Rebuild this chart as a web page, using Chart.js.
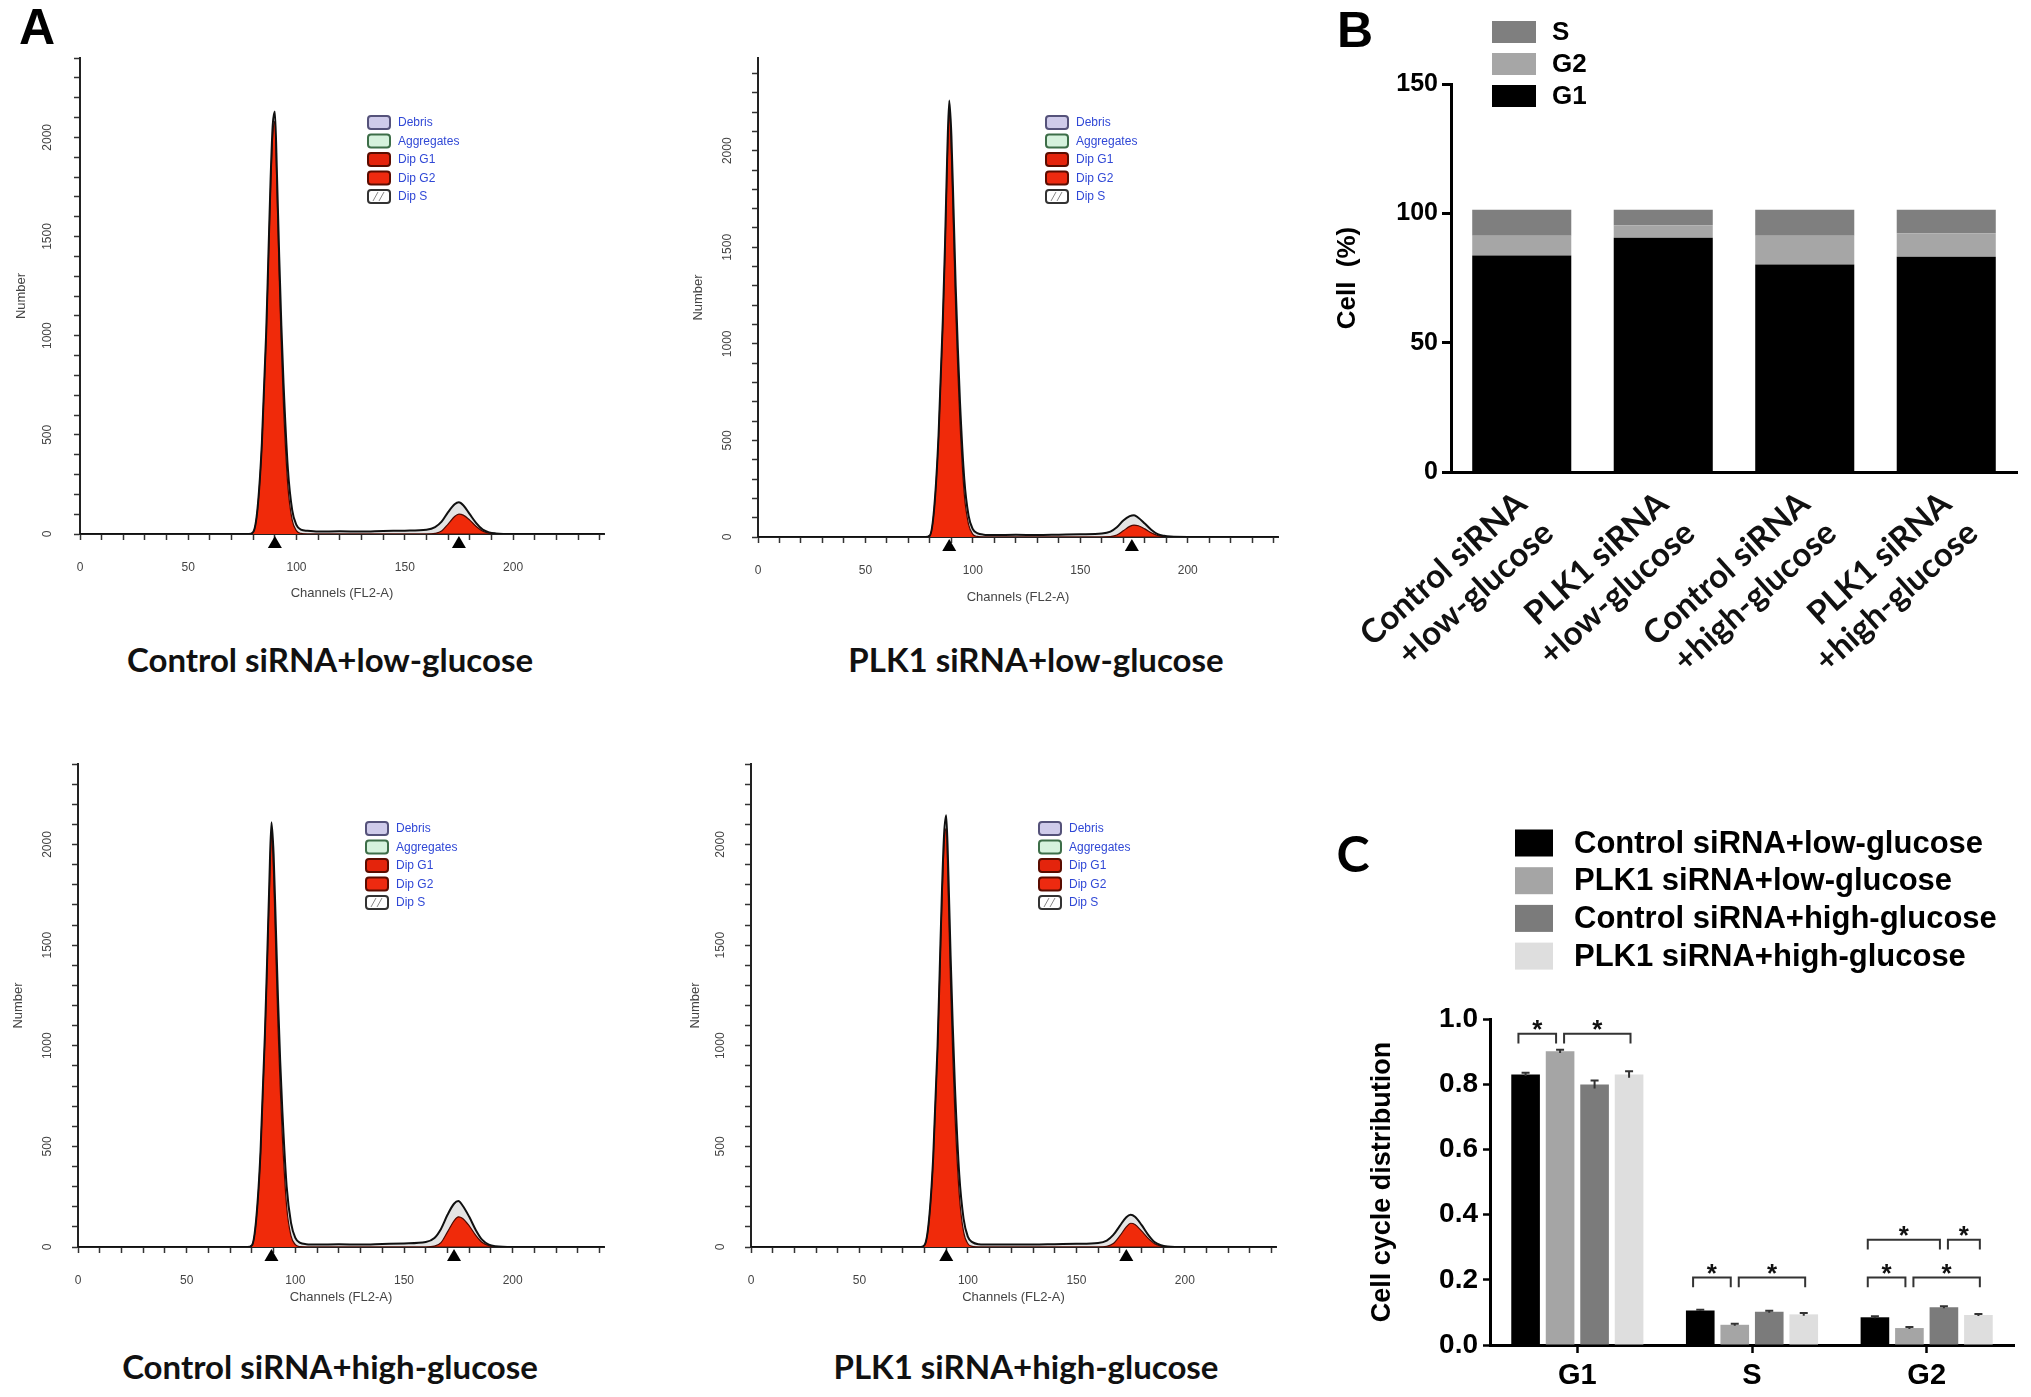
<!DOCTYPE html>
<html>
<head>
<meta charset="utf-8">
<title>Cell cycle distribution</title>
<script src="https://cdn.jsdelivr.net/npm/chart.js@4.4.1/dist/chart.umd.min.js"></script>
<style>
html,body{margin:0;padding:0;background:#fff}
body{position:relative;width:2031px;height:1397px;overflow:hidden}
canvas{position:absolute}
.txt{position:absolute;transform:translate(-50%,-50%);white-space:nowrap;line-height:1;color:#000}
.letter{font-family:"Liberation Sans",Arial,sans-serif;font-weight:bold;font-size:50px}
.cap{font-family:Lato,"Open Sans",sans-serif;font-weight:bold;font-size:33px;color:#111}
</style>
</head>
<body>
<div class="txt letter" style="left:37px;top:27px">A</div>
<div class="txt letter" style="left:1355px;top:30px">B</div>
<div class="txt letter" style="left:1353px;top:853px;font-family:Lato,sans-serif">C</div>
<div class="txt cap" style="left:330px;top:659px">Control siRNA+low-glucose</div>
<div class="txt cap" style="left:1036px;top:659px">PLK1 siRNA+low-glucose</div>
<div class="txt cap" style="left:330px;top:1366px">Control siRNA+high-glucose</div>
<div class="txt cap" style="left:1026px;top:1366px">PLK1 siRNA+high-glucose</div>

<canvas id="h1" width="640" height="620" style="left:0;top:0"></canvas>
<canvas id="h2" width="640" height="620" style="left:678px;top:0"></canvas>
<canvas id="h3" width="640" height="620" style="left:0;top:700px"></canvas>
<canvas id="h4" width="640" height="620" style="left:678px;top:700px"></canvas>
<canvas id="cB" width="701" height="690" style="left:1330px;top:0"></canvas>
<canvas id="cC" width="701" height="597" style="left:1330px;top:800px"></canvas>

<script>
// ---------- panel A : DNA histograms ----------
const histChannels = [0,78,80,82,84,86,87,88,89,90,91,92,93,94,96,98,100,102,105,110,120,130,140,150,160,164,167,170,173,175,177,180,183,186,189,192,200,242];
const histXTicks = [0,10,20,30,40,50,60,70,80,90,100,110,120,130,140,150,160,170,180,190,200,210,220,230,240];
const histYTicks = [0,100,200,300,400,500,600,700,800,900,1000,1100,1200,1300,1400,1500,1600,1700,1800,1900,2000,2100,2200,2300,2400,2500];
const histLegendItems = ['Debris','Aggregates','Dip G1','Dip G2','Dip S'];

const ctrlLowCounts = [0,0,10,130,460,1020,1400,1780,2060,2130,1800,1400,1050,760,330,120,45,22,16,12,14,12,15,17,22,35,62,110,150,160,145,100,55,22,8,3,0,0];
const ctrlLowG1 = [0,0,10,125,450,1000,1370,1740,2010,2080,1720,1300,940,640,240,70,16,3,0,0,0,0,0,0,0,0,0,0,0,0,0,0,0,0,0,0,0,0];
const ctrlLowG2 = [0,0,0,0,0,0,0,0,0,0,0,0,0,0,0,0,0,0,0,0,0,0,0,0,0,3,15,50,88,100,95,70,38,14,4,0,0,0];

const plkLowCounts = [0,0,8,150,520,1120,1500,1950,2260,2080,1700,1300,980,700,300,110,40,20,12,10,12,10,12,14,18,28,50,85,108,113,100,70,38,15,6,2,0,0];
const plkLowG1 = [0,0,8,145,510,1100,1470,1910,2200,1980,1580,1180,860,590,220,65,14,3,0,0,0,0,0,0,0,0,0,0,0,0,0,0,0,0,0,0,0,0];
const plkLowG2 = [0,0,0,0,0,0,0,0,0,0,0,0,0,0,0,0,0,0,0,0,0,0,0,0,0,2,10,32,55,62,58,42,22,8,2,0,0,0];

const ctrlHighCounts = [0,0,8,140,480,1060,1420,1800,2110,1950,1600,1240,930,680,300,120,45,22,14,12,14,12,15,18,25,45,90,160,215,228,205,150,85,35,12,4,0,0];
const ctrlHighG1 = [0,0,8,135,470,1040,1390,1760,2050,1850,1470,1100,800,550,200,55,12,2,0,0,0,0,0,0,0,0,0,0,0,0,0,0,0,0,0,0,0,0];
const ctrlHighG2 = [0,0,0,0,0,0,0,0,0,0,0,0,0,0,0,0,0,0,0,0,0,0,0,0,0,4,22,75,130,150,142,105,58,22,6,0,0,0];

const plkHighCounts = [0,0,10,130,450,1000,1380,1760,2050,2145,1850,1450,1100,800,360,140,50,24,14,12,13,12,14,16,20,32,60,105,148,160,150,110,62,25,9,3,0,0];
const plkHighG1 = [0,0,10,125,440,980,1350,1720,2000,2080,1720,1300,950,660,260,75,16,3,0,0,0,0,0,0,0,0,0,0,0,0,0,0,0,0,0,0,0,0];
const plkHighG2 = [0,0,0,0,0,0,0,0,0,0,0,0,0,0,0,0,0,0,0,0,0,0,0,0,0,3,17,55,100,118,112,80,44,16,4,0,0,0];

// peak positions (G1, G2) marked under the axis
const peakMarks = [[90,175],[89,174],[89,173],[90,173]];

// ---------- panel B ----------
const cellLabels = [['Control siRNA','+low-glucose'],['PLK1 siRNA','+low-glucose'],['Control siRNA','+high-glucose'],['PLK1 siRNA','+high-glucose']];
const pctG1 = [83.7, 90.6, 80.2, 83.2];
const pctG2 = [7.6, 4.8, 11.1, 9.1];
const pctS = [10.1, 6.0, 10.1, 9.1];
const pctTicks = [0,50,100,150];

// ---------- panel C ----------
const phaseLabels = ['G1','S','G2'];
const groupNames = ['Control siRNA+low-glucose','PLK1 siRNA+low-glucose','Control siRNA+high-glucose','PLK1 siRNA+high-glucose'];
const distCtrlLow = [0.830, 0.106, 0.085];
const distPlkLow = [0.901, 0.062, 0.052];
const distCtrlHigh = [0.799, 0.102, 0.116];
const distPlkHigh = [0.830, 0.094, 0.092];
const errCtrlLow = [0.005, 0.002, 0.003];
const errPlkLow = [0.005, 0.003, 0.003];
const errCtrlHigh = [0.012, 0.003, 0.003];
const errPlkHigh = [0.010, 0.004, 0.003];
const distTicks = [0,0.2,0.4,0.6,0.8,1.0];
// significance brackets: phase index, from group, to group, bracket level
const sigPairs = [
  {group:0, from:0, to:1, y:0.955},
  {group:0, from:1, to:3, y:0.955},
  {group:1, from:0, to:1, y:0.207},
  {group:1, from:1, to:3, y:0.207},
  {group:2, from:0, to:1, y:0.207},
  {group:2, from:1, to:3, y:0.207},
  {group:2, from:0, to:2, y:0.323},
  {group:2, from:2, to:3, y:0.323}
];

Chart.defaults.font.family = '"Liberation Sans", Arial, sans-serif';
Chart.defaults.color = '#000';

const legendLook = [
  {fill:'#cfcbea', stroke:'#55527a'},
  {fill:'#d6f2dd', stroke:'#3d6e48'},
  {fill:'#e4240c', stroke:'#5a0c00'},
  {fill:'#ee2a10', stroke:'#5a0c00'},
  {fill:'#ffffff', stroke:'#333333'}
];

const histDecor = {
  id:'histDecor',
  afterDraw(chart, args, opts){
    const ctx = chart.ctx, a = chart.chartArea, xs = chart.scales.x;
    ctx.save();
    ctx.fillStyle = '#000';
    opts.marks.forEach(m => {
      const px = xs.getPixelForValue(m);
      ctx.beginPath();
      ctx.moveTo(px, a.bottom + 2);
      ctx.lineTo(px + 7, a.bottom + 14);
      ctx.lineTo(px - 7, a.bottom + 14);
      ctx.closePath();
      ctx.fill();
    });
    const lx = a.left + 288, ly = a.top + 65;
    ctx.font = '12px "Liberation Sans", Arial, sans-serif';
    ctx.textBaseline = 'middle';
    histLegendItems.forEach((name, i) => {
      const st = legendLook[i], y = ly + i * 18.5;
      ctx.beginPath();
      ctx.roundRect(lx, y - 7, 22, 13, 3);
      ctx.fillStyle = st.fill; ctx.fill();
      ctx.lineWidth = 2; ctx.strokeStyle = st.stroke; ctx.stroke();
      if (name === 'Dip S') {
        ctx.lineWidth = 1; ctx.strokeStyle = '#888';
        ctx.beginPath();
        ctx.moveTo(lx + 5, y + 4); ctx.lineTo(lx + 10, y - 5);
        ctx.moveTo(lx + 11, y + 4); ctx.lineTo(lx + 16, y - 5);
        ctx.stroke();
      }
      ctx.fillStyle = '#3048d6';
      ctx.fillText(name, lx + 30, y);
    });
    ctx.restore();
  }
};

function drawHistogram(id, counts, g1Fit, g2Fit, marks, lay){
  const pts = arr => histChannels.map((c, i) => ({x:c, y:arr[i]}));
  const yTicks = histYTicks.filter(v => v <= lay.yMax);
  return new Chart(document.getElementById(id), {
    type:'line',
    data:{datasets:[
      {label:'Data', data:pts(counts), borderColor:'#101010', borderWidth:2, fill:false, order:0},
      {label:'Dip G1', data:pts(g1Fit), borderColor:'#4a0800', borderWidth:1.2, backgroundColor:'#f02a0a', fill:'origin', order:1},
      {label:'Dip G2', data:pts(g2Fit), borderColor:'#4a0800', borderWidth:1.2, backgroundColor:'#f02a0a', fill:'origin', order:1},
      {label:'Dip S', data:pts(counts), borderWidth:0, backgroundColor:'#e4e4e4', fill:'origin', order:2}
    ]},
    options:{
      responsive:false, animation:false,
      layout:{padding:{top:lay.top, right:lay.right, left:0, bottom:0}},
      elements:{point:{radius:0}, line:{cubicInterpolationMode:'monotone'}},
      plugins:{legend:{display:false}, tooltip:{enabled:false}, histDecor:{marks:marks}},
      scales:{
        x:{type:'linear', min:0, max:242,
          afterBuildTicks:s => { s.ticks = histXTicks.map(v => ({value:v})); },
          afterFit:s => { s.height = lay.xh; },
          border:{color:'#222', width:2},
          grid:{drawOnChartArea:false, tickLength:6, tickColor:'#333', tickWidth:1.5},
          ticks:{autoSkip:false, maxRotation:0, padding:20, color:'#444', font:{size:12}, callback:v => v % 50 === 0 ? v : ''},
          title:{display:true, text:'Channels (FL2-A)', color:'#444', font:{size:13}, padding:{top:0, bottom:lay.tb}}
        },
        y:{min:0, max:lay.yMax,
          afterBuildTicks:s => { s.ticks = yTicks.map(v => ({value:v})); },
          afterFit:s => { s.width = lay.yw; },
          border:{color:'#222', width:2},
          grid:{drawOnChartArea:false, tickLength:6, tickColor:'#333', tickWidth:1.5},
          ticks:{autoSkip:false, minRotation:90, maxRotation:90, crossAlign:'center', padding:lay.tp, color:'#444', font:{size:12}, callback:v => v % 500 === 0 ? v : ''},
          title:{display:true, text:'Number', color:'#444', font:{size:13}, padding:{top:lay.nt, bottom:0}}
        }
      }
    },
    plugins:[histDecor]
  });
}

drawHistogram('h1', ctrlLowCounts, ctrlLowG1, ctrlLowG2, peakMarks[0], {top:58, right:36, yw:80, xh:86, tb:19, tp:13, nt:14, yMax:2400});
drawHistogram('h2', plkLowCounts, plkLowG1, plkLowG2, peakMarks[1], {top:58, right:40, yw:80, xh:83, tb:15, tp:11, nt:13, yMax:2480});
drawHistogram('h3', ctrlHighCounts, ctrlHighG1, ctrlHighG2, peakMarks[2], {top:64, right:36, yw:78, xh:73, tb:15, tp:11, nt:11, yMax:2400});
drawHistogram('h4', plkHighCounts, plkHighG1, plkHighG2, peakMarks[3], {top:64, right:42, yw:73, xh:73, tb:15, tp:11, nt:10, yMax:2400});

// legend with plain filled boxes (panels B and C)
const boxLegend = {
  id:'boxLegend',
  afterDraw(chart, args, o){
    const ctx = chart.ctx, a = chart.chartArea;
    ctx.save();
    ctx.font = o.font;
    ctx.textBaseline = 'middle';
    ctx.textAlign = 'left';
    o.order.forEach((di, k) => {
      const ds = chart.data.datasets[di];
      const cy = a.top + o.y + k * o.rowH, bx = a.left + o.x;
      ctx.fillStyle = ds.backgroundColor;
      ctx.fillRect(bx, cy - o.boxH / 2, o.boxW, o.boxH);
      ctx.fillStyle = '#000';
      ctx.fillText(ds.label, bx + o.boxW + o.gap, cy + 1);
    });
    ctx.restore();
  }
};

// ---------- panel B : stacked percentages ----------
new Chart(document.getElementById('cB'), {
  type:'bar',
  data:{labels:cellLabels, datasets:[
    {label:'G1', data:pctG1, backgroundColor:'#000000'},
    {label:'G2', data:pctG2, backgroundColor:'#a6a6a6'},
    {label:'S', data:pctS, backgroundColor:'#7f7f7f'}
  ]},
  options:{
    responsive:false, animation:false,
    layout:{padding:{top:84, right:14, left:0, bottom:0}},
    datasets:{bar:{categoryPercentage:1, barPercentage:0.7}},
    plugins:{legend:{display:false}, tooltip:{enabled:false},
      boxLegend:{order:[2,1,0], x:41, y:-52, rowH:32, boxW:44, boxH:22, gap:16, font:'bold 26px "Liberation Sans", Arial, sans-serif'}},
    scales:{
      x:{stacked:true,
        afterFit:s => { s.height = 218; },
        grid:{display:false},
        border:{color:'#000', width:3},
        ticks:{autoSkip:false, minRotation:42, maxRotation:42, padding:4, color:'#111', font:{family:'Lato', weight:'bold', size:33}}
      },
      y:{stacked:true, min:0, max:150,
        afterBuildTicks:s => { s.ticks = pctTicks.map(v => ({value:v})); },
        afterFit:s => { s.width = 121; },
        border:{color:'#000', width:3},
        grid:{drawOnChartArea:false, tickLength:9, tickWidth:3, tickColor:'#000'},
        ticks:{padding:4, color:'#000', font:{weight:'bold', size:25}},
        title:{display:true, text:'Cell  (%)', color:'#000', font:{weight:'bold', size:26}, padding:{top:2, bottom:0}}
      }
    }
  },
  plugins:[boxLegend]
});

// ---------- panel C : grouped distribution with error bars ----------
const sigMarks = {
  id:'sigMarks',
  afterDatasetsDraw(chart){
    const ctx = chart.ctx, ys = chart.scales.y;
    ctx.save();
    ctx.strokeStyle = '#333'; ctx.lineWidth = 2;
    chart.data.datasets.forEach((ds, di) => {
      chart.getDatasetMeta(di).data.forEach((bar, i) => {
        const top = ys.getPixelForValue(ds.data[i] + ds.errors[i]);
        const bot = ys.getPixelForValue(ds.data[i] - ds.errors[i]);
        ctx.beginPath();
        ctx.moveTo(bar.x, bot); ctx.lineTo(bar.x, top);
        ctx.moveTo(bar.x - 4, top); ctx.lineTo(bar.x + 4, top);
        ctx.stroke();
      });
    });
    ctx.fillStyle = '#111';
    ctx.font = 'bold 26px "Liberation Sans", Arial, sans-serif';
    ctx.textAlign = 'center'; ctx.textBaseline = 'alphabetic';
    sigPairs.forEach(p => {
      const b1 = chart.getDatasetMeta(p.from).data[p.group];
      const b2 = chart.getDatasetMeta(p.to).data[p.group];
      const sharedL = sigPairs.some(q => q !== p && q.group === p.group && q.y === p.y && q.to === p.from);
      const sharedR = sigPairs.some(q => q !== p && q.group === p.group && q.y === p.y && q.from === p.to);
      const x1 = sharedL ? b1.x + 4 : b1.x - b1.width * 0.25;
      const x2 = sharedR ? b2.x - 4 : b2.x + b2.width * 0.05;
      const yl = ys.getPixelForValue(p.y), yf = ys.getPixelForValue(p.y - 0.03);
      ctx.beginPath();
      ctx.moveTo(x1, yf); ctx.lineTo(x1, yl); ctx.lineTo(x2, yl); ctx.lineTo(x2, yf);
      ctx.stroke();
      ctx.fillText('*', (x1 + x2) / 2, yl + 4);
    });
    ctx.restore();
  }
};

new Chart(document.getElementById('cC'), {
  type:'bar',
  data:{labels:phaseLabels, datasets:[
    {label:groupNames[0], data:distCtrlLow, errors:errCtrlLow, backgroundColor:'#000000'},
    {label:groupNames[1], data:distPlkLow, errors:errPlkLow, backgroundColor:'#a5a5a5'},
    {label:groupNames[2], data:distCtrlHigh, errors:errCtrlHigh, backgroundColor:'#7b7b7b'},
    {label:groupNames[3], data:distPlkHigh, errors:errPlkHigh, backgroundColor:'#dedede'}
  ]},
  options:{
    responsive:false, animation:false,
    layout:{padding:{top:219, right:17, left:0, bottom:0}},
    datasets:{bar:{categoryPercentage:0.79, barPercentage:0.83}},
    plugins:{legend:{display:false}, tooltip:{enabled:false},
      boxLegend:{order:[0,1,2,3], x:25, y:-176, rowH:37.7, boxW:38, boxH:27, gap:21, font:'bold 31px "Liberation Sans", Arial, sans-serif'}},
    scales:{
      x:{
        afterFit:s => { s.height = 52; },
        grid:{offset:false, drawOnChartArea:false, tickLength:8, tickWidth:2.5, tickColor:'#000'},
        border:{color:'#000', width:3},
        ticks:{padding:6, color:'#000', font:{weight:'bold', size:29}}
      },
      y:{min:0, max:1,
        afterBuildTicks:s => { s.ticks = distTicks.map(v => ({value:v})); },
        afterFit:s => { s.width = 160; },
        border:{color:'#000', width:3},
        grid:{drawOnChartArea:false, tickLength:7, tickWidth:2.5, tickColor:'#000'},
        ticks:{padding:5, color:'#000', font:{weight:'bold', size:28}, callback:v => v.toFixed(1)},
        title:{display:true, text:'Cell cycle distribution', color:'#000', font:{weight:'bold', size:27}, padding:{top:36, bottom:0}}
      }
    }
  },
  plugins:[boxLegend, sigMarks]
});
</script>
</body>
</html>
